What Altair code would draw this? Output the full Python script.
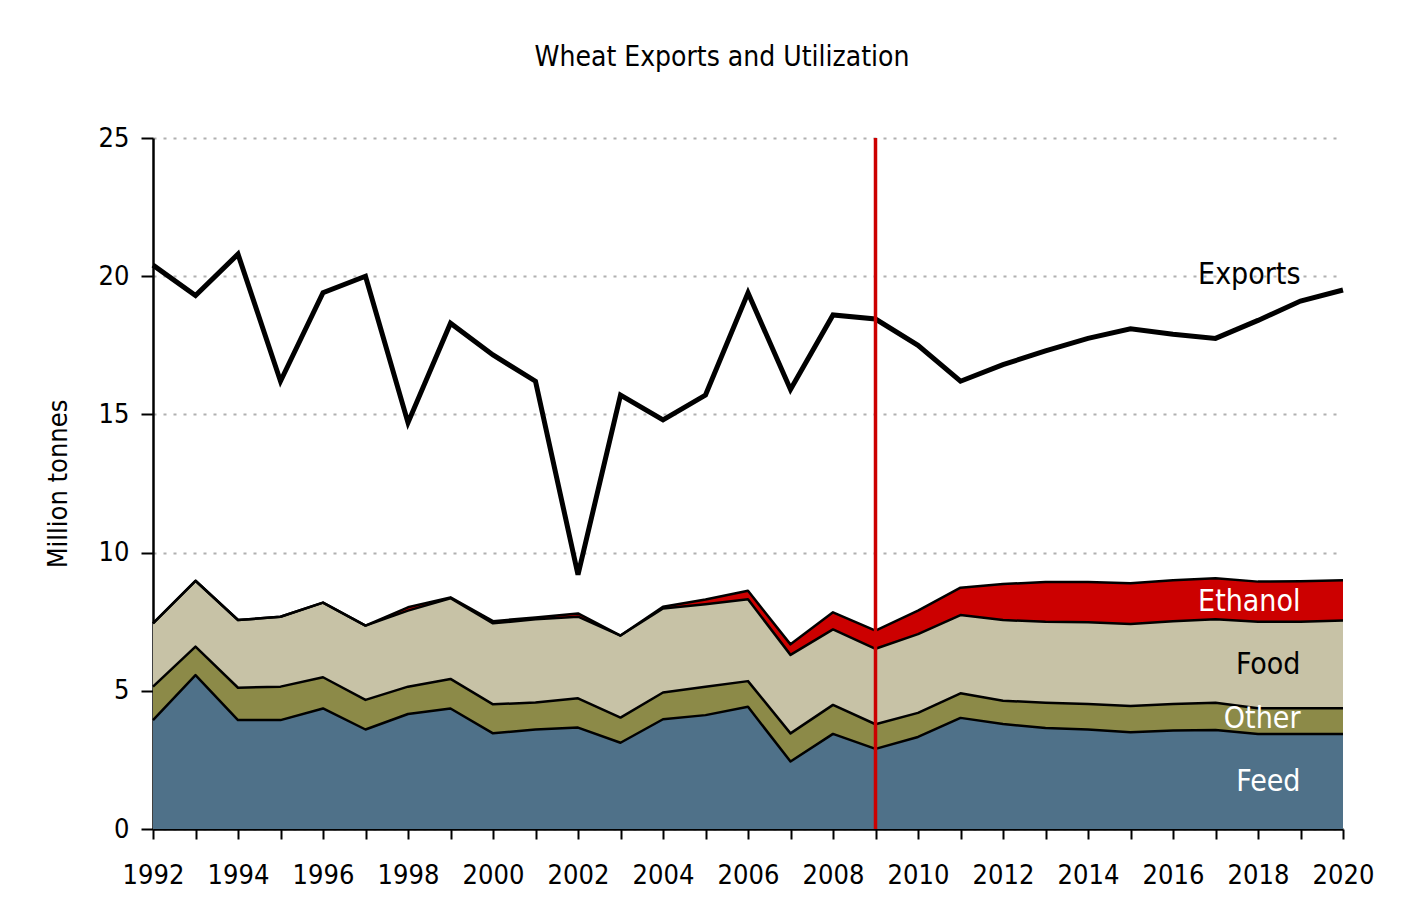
import altair as alt
import pandas as pd

years = list(range(1992, 2021))
feed = [3.94, 5.57, 3.94, 3.94, 4.36, 3.60, 4.16, 4.36, 3.46, 3.60, 3.67, 3.12, 3.97, 4.12, 4.42,
        2.44, 3.44, 2.90, 3.33, 4.02, 3.80, 3.65, 3.60, 3.50, 3.56, 3.58, 3.44, 3.44, 3.44]
other = [1.21, 1.03, 1.17, 1.21, 1.13, 1.07, 0.99, 1.07, 1.05, 0.98, 1.06, 0.91, 0.97, 1.03, 0.93,
         1.02, 1.05, 0.89, 0.87, 0.89, 0.84, 0.92, 0.92, 0.95, 0.96, 0.99, 0.93, 0.93, 0.93]
food = [2.29, 2.38, 2.45, 2.53, 2.70, 2.69, 2.75, 2.92, 2.93, 3.01, 2.95, 2.97, 3.04, 2.98, 2.96,
        2.84, 2.73, 2.73, 2.85, 2.83, 2.92, 2.93, 2.96, 2.97, 3.00, 3.02, 3.13, 3.13, 3.17]
ethanol = [0.0, 0.0, 0.0, 0.0, 0.0, 0.0, 0.12, 0.03, 0.08, 0.06, 0.12, 0.0, 0.06, 0.17, 0.31,
           0.38, 0.62, 0.66, 0.85, 0.99, 1.30, 1.44, 1.46, 1.47, 1.48, 1.48, 1.45, 1.46, 1.46]
exports = [20.4, 19.3, 20.8, 16.2, 19.4, 20.0, 14.7, 18.3, 17.15, 16.2, 9.2, 15.7, 14.8, 15.7, 19.4,
           15.9, 18.6, 18.45, 17.5, 16.2, 16.8, 17.3, 17.75, 18.1, 17.9, 17.75, 18.4, 19.1, 19.5]

series_names = ["Feed", "Other", "Food", "Ethanol"]
series_vals = [feed, other, food, ethanol]
series_colors = ["#4f7189", "#8c8a48", "#c7c2a6", "#cc0000"]

label_text = ["Feed", "Other", "Food", "Ethanol", "Exports"]
label_x = [2019.0, 2019.0, 2019.0, 2019.0, 2019.0]
label_y = [1.70, 3.98, 5.93, 8.21, 20.05]
label_color = ["white", "white", "black", "white", "black"]

split_year = 2009

FONT = "Liberation Sans Narrow, Arial Narrow, DejaVu Sans Condensed, sans-serif"

rows = []
for i, y in enumerate(years):
    base = 0.0
    for name, vals in zip(series_names, series_vals):
        rows.append({"year": y, "series": name, "bottom": base, "top": base + vals[i]})
        base += vals[i]
df = pd.DataFrame(rows)
exp_df = pd.DataFrame({"year": years, "exports": exports})
lab_df = pd.DataFrame({"text": label_text, "x": label_x, "y": label_y, "color": label_color})
vline_df = pd.DataFrame({"year": [split_year], "y0": [0], "y1": [25]})

xscale = alt.Scale(domain=[1992, 2020], nice=False, zero=False)
yscale = alt.Scale(domain=[0, 25], nice=False)

xaxis = alt.Axis(values=years, format="d",
                 labelExpr="datum.value % 2 == 0 ? datum.label : ''",
                 labelFontSize=27, labelFont=FONT, labelColor="black", labelPadding=36,
                 tickSize=10, tickColor="black", tickWidth=2,
                 domainColor="black", domainWidth=2.5, grid=False, title=None,
                 labelOverlap=False, labelFlush=False, labelBaseline="middle")
yaxis = alt.Axis(values=[0, 5, 10, 15, 20, 25], labelFontSize=27, labelFont=FONT,
                 labelColor="black", labelPadding=12, tickSize=12, tickColor="black", tickWidth=2,
                 domainColor="black", domainWidth=2.5, grid=True, gridColor="#b0b0b0",
                 gridDash=[3, 7], gridWidth=2,
                 title="Million tonnes", titleFont=FONT, titleFontSize=27, titleFontWeight="normal",
                 titleColor="black", titlePadding=26)

color_scale = alt.Scale(domain=series_names, range=series_colors)

areas = alt.Chart(df).mark_area(opacity=1, interpolate="linear").encode(
    x=alt.X("year:Q", scale=xscale, axis=xaxis),
    y=alt.Y("top:Q", scale=yscale, axis=yaxis),
    y2="bottom:Q",
    color=alt.Color("series:N", scale=color_scale, legend=None),
    detail="series:N",
)

outlines = alt.Chart(df).mark_line(color="black", strokeWidth=2.5, strokeJoin="round").encode(
    x=alt.X("year:Q", scale=xscale),
    y=alt.Y("top:Q", scale=yscale),
    detail="series:N",
)

exp_line = alt.Chart(exp_df).mark_line(color="black", strokeWidth=5, strokeJoin="miter").encode(
    x=alt.X("year:Q", scale=xscale),
    y=alt.Y("exports:Q", scale=yscale),
)

vline = alt.Chart(vline_df).mark_rule(color="#cc0000", strokeWidth=3.5).encode(
    x=alt.X("year:Q", scale=xscale),
    y=alt.Y("y0:Q", scale=yscale),
    y2="y1:Q",
)

labels = alt.Chart(lab_df).mark_text(align="right", baseline="middle", fontSize=30, font=FONT).encode(
    x=alt.X("x:Q", scale=xscale),
    y=alt.Y("y:Q", scale=yscale),
    text="text:N",
    color=alt.Color("color:N", scale=None),
)

chart = alt.layer(areas, outlines, exp_line, vline, labels).properties(
    width=1190, height=691,
    title=alt.TitleParams("Wheat Exports and Utilization", font=FONT, fontSize=28,
                          fontWeight="normal", color="black", anchor="middle", dx=-26, offset=52),
    autosize=alt.AutoSizeParams(type="none"),
    padding={"left": 145, "top": 130, "right": 50, "bottom": 70},
    background="white",
).configure_view(stroke=None)

chart.save("out.html", embed_options={"renderer": "svg", "actions": False})
